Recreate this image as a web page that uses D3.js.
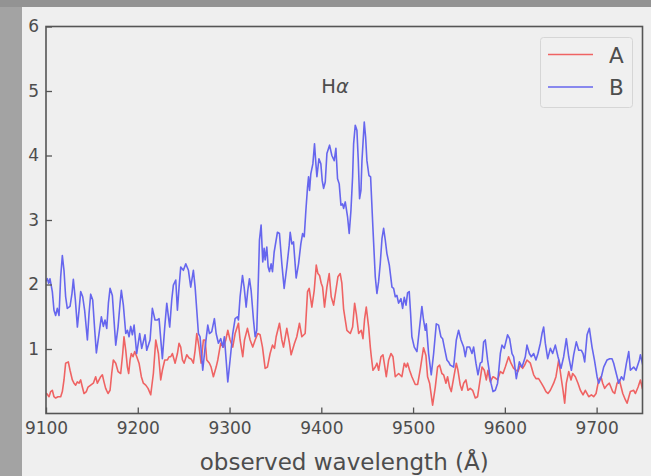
<!DOCTYPE html>
<html>
<head>
<meta charset="utf-8">
<script src="https://cdn.jsdelivr.net/npm/d3@7"></script>
<style>
  html, body { margin: 0; padding: 0; background: #efefef; }
  svg { display: block; }
  text { font-family: "DejaVu Sans", sans-serif; fill: #4d4d4d; }
</style>
</head>
<body>
<svg id="chart" width="651" height="476"></svg>
<script>
// Spectrum A (red): [wavelength in Å, flux]
const spectrumA = [[9100,0.30],[9100.7,0.31],[9103.3,0.26],[9105.1,0.34],[9106.9,0.36],[9108.7,0.26],[9110.5,0.24],[9113.1,0.26],[9116.0,0.26],[9117.8,0.34],[9119.6,0.52],[9121.4,0.78],[9124.3,0.80],[9126.2,0.67],[9128.7,0.52],[9130.5,0.47],[9132.3,0.44],[9134.1,0.49],[9136.0,0.47],[9137.8,0.52],[9139.6,0.41],[9141.4,0.31],[9144.0,0.34],[9145.8,0.41],[9148.7,0.44],[9151.6,0.47],[9154.1,0.57],[9156.0,0.47],[9157.8,0.52],[9159.6,0.57],[9161.4,0.60],[9163.2,0.49],[9165.0,0.39],[9167.6,0.31],[9169.8,0.36],[9171.6,0.62],[9173.4,0.83],[9176.0,0.78],[9178.5,0.65],[9181.4,0.62],[9183.6,0.93],[9185.0,1.19],[9186.9,0.98],[9188.7,0.72],[9190.1,0.62],[9191.6,0.83],[9193.0,0.93],[9194.8,0.88],[9196.7,0.96],[9198.9,0.88],[9201.4,0.78],[9203.9,0.57],[9206.1,0.47],[9208.7,0.44],[9211.2,0.39],[9214.1,0.29],[9217.0,0.62],[9219.6,1.14],[9222.5,0.93],[9225.0,0.52],[9226.8,0.67],[9229.4,0.83],[9232.3,0.83],[9234.1,0.88],[9235.9,0.88],[9237.7,0.93],[9240.7,0.78],[9243.2,0.93],[9245.0,1.09],[9246.8,1.03],[9248.7,0.83],[9250.5,0.78],[9253.4,0.91],[9255.9,0.86],[9258.5,0.84],[9260.6,0.78],[9262.5,0.98],[9264.3,1.24],[9266.8,1.03],[9269.0,0.78],[9271.5,1.14],[9273.4,1.14],[9275.2,0.83],[9278.1,0.78],[9279.9,0.72],[9282.4,0.57],[9285.4,0.72],[9287.2,0.83],[9289.0,0.98],[9290.4,1.09],[9293.4,1.03],[9295.9,1.14],[9298.1,1.29],[9300.6,1.14],[9303.5,1.03],[9306.1,1.24],[9309.7,1.40],[9311.5,1.14],[9314.4,0.88],[9316.3,1.14],[9319.5,1.32],[9322.4,1.14],[9325.3,1.03],[9327.9,1.14],[9330.8,1.24],[9333.3,1.22],[9335.9,1.03],[9338.8,0.70],[9341.3,0.72],[9344.2,0.93],[9346.8,1.06],[9349.0,1.01],[9350.8,1.19],[9354.4,1.40],[9357.0,1.14],[9358.8,1.03],[9362.4,1.32],[9365.3,1.09],[9367.1,0.91],[9370.8,1.09],[9373.3,1.19],[9376.2,1.40],[9378.8,1.19],[9382.4,1.24],[9385.0,1.89],[9386.8,1.94],[9389.7,1.65],[9392.3,1.91],[9394.5,2.30],[9396.3,2.17],[9398.1,2.14],[9399.9,2.02],[9401.4,1.96],[9403.5,1.65],[9406.1,1.96],[9408.6,2.17],[9410.8,1.81],[9413.4,1.68],[9415.9,1.91],[9418.1,2.12],[9420.6,2.17],[9422.4,2.02],[9424.3,1.62],[9426.1,1.45],[9427.9,1.29],[9431.6,1.24],[9434.1,1.34],[9436.3,1.71],[9438.1,1.55],[9440.7,1.24],[9443.6,1.29],[9445.4,1.16],[9447.2,1.47],[9449.0,1.65],[9451.6,1.34],[9453.4,1.03],[9454.5,0.88],[9456.3,0.67],[9458.8,0.72],[9460.6,0.78],[9462.5,0.67],[9465.0,0.88],[9467.2,0.91],[9468.6,0.78],[9470.8,0.57],[9473.4,0.83],[9475.9,0.93],[9478.1,0.88],[9480.6,0.57],[9484.3,0.62],[9487.8,0.57],[9490.4,0.78],[9492.5,0.72],[9494.0,0.78],[9496.2,0.67],[9498.7,0.57],[9502.4,0.45],[9505.0,0.45],[9508.0,0.70],[9511.4,1.02],[9514.0,0.90],[9515.8,0.57],[9518.0,0.47],[9521.3,0.13],[9524.2,0.41],[9526.7,0.72],[9528.9,0.75],[9531.4,0.62],[9533.3,0.60],[9535.8,0.47],[9537.6,0.57],[9539.8,0.41],[9541.6,0.34],[9544.2,0.55],[9547.1,0.78],[9548.9,0.67],[9551.4,0.44],[9553.2,0.36],[9555.1,0.47],[9557.6,0.52],[9559.8,0.36],[9562.3,0.39],[9564.9,0.36],[9567.8,0.24],[9570.3,0.26],[9572.5,0.47],[9575.1,0.72],[9577.6,0.67],[9579.8,0.52],[9581.6,0.67],[9584.1,0.49],[9587.1,0.57],[9589.6,0.55],[9592.1,0.52],[9595.1,0.65],[9598.0,0.62],[9600.5,0.72],[9604.1,0.88],[9606.7,0.78],[9609.6,0.70],[9612.5,0.67],[9614.3,0.65],[9616.9,0.75],[9619.4,0.70],[9621.6,0.75],[9624.1,0.83],[9627.8,0.78],[9631.4,0.60],[9633.9,0.54],[9636.8,0.54],[9639.8,0.47],[9642.3,0.41],[9644.8,0.34],[9647.0,0.31],[9649.6,0.36],[9653.2,0.47],[9655.7,0.57],[9658.7,0.83],[9661.2,0.57],[9663.4,0.36],[9665.2,0.16],[9667.0,0.47],[9669.6,0.65],[9672.1,0.52],[9673.9,0.62],[9676.8,0.57],[9679.7,0.47],[9682.3,0.36],[9685.2,0.29],[9687.7,0.36],[9691.4,0.26],[9694.3,0.29],[9696.8,0.26],[9699.4,0.31],[9702.3,0.52],[9704.8,0.57],[9706.6,0.47],[9708.8,0.39],[9711.4,0.44],[9713.9,0.47],[9717.5,0.34],[9719.7,0.31],[9722.3,0.47],[9724.8,0.52],[9728.5,0.31],[9731.4,0.21],[9733.2,0.16],[9736.8,0.34],[9740.4,0.36],[9742.3,0.31],[9745.2,0.41],[9747.7,0.52],[9750.0,0.38]];

// Spectrum B (blue): [wavelength in Å, flux]
const spectrumB = [[9100,2.05],[9101.4,2.09],[9102.9,2.02],[9104.3,2.09],[9106.9,1.89],[9108.7,1.60],[9110.5,1.52],[9112.3,1.63],[9114.2,1.52],[9116.0,2.12],[9117.8,2.45],[9119.6,2.22],[9121.4,1.81],[9123.2,1.63],[9126.2,1.66],[9128.3,1.86],[9129.8,2.08],[9132.0,1.76],[9134.2,1.34],[9136.0,1.60],[9137.8,1.89],[9140.0,1.81],[9142.1,1.60],[9145.1,1.14],[9146.9,1.55],[9148.7,1.85],[9150.9,1.76],[9153.1,1.29],[9154.9,0.94],[9157.8,1.24],[9160.3,1.50],[9162.5,1.35],[9164.3,1.45],[9166.2,1.32],[9168.0,1.71],[9169.8,1.94],[9172.3,1.83],[9174.1,1.45],[9176.0,1.06],[9178.5,1.34],[9180.7,1.71],[9182.1,1.91],[9184.3,1.68],[9186.9,1.24],[9188.7,1.29],[9190.5,1.19],[9192.3,1.35],[9194.1,1.22],[9196.0,1.37],[9198.8,0.93],[9202.1,1.24],[9204.3,1.01],[9207.9,1.22],[9209.8,0.98],[9213.4,1.14],[9215.9,1.63],[9218.8,1.45],[9221.4,1.45],[9223.2,1.47],[9226.8,0.85],[9229.4,1.34],[9231.6,1.71],[9234.8,1.34],[9237.0,1.76],[9238.8,1.99],[9241.4,2.07],[9243.2,1.60],[9245.0,1.96],[9246.8,2.27],[9249.7,2.22],[9252.3,2.32],[9255.2,2.22],[9257.7,1.96],[9260.6,2.22],[9262.5,1.96],[9264.3,1.60],[9266.1,1.24],[9267.9,1.19],[9270.8,0.67],[9273.4,1.03],[9276.3,1.37],[9278.1,1.24],[9280.6,1.27],[9283.5,1.47],[9285.4,1.24],[9287.9,1.09],[9290.4,1.16],[9292.6,1.03],[9294.4,1.19],[9296.3,0.83],[9298.1,0.49],[9300.6,0.83],[9303.5,1.24],[9306.1,1.47],[9308.6,1.50],[9309.7,1.45],[9311.5,1.81],[9314.1,2.14],[9315.9,1.96],[9318.1,1.65],[9319.9,1.91],[9321.7,2.09],[9323.5,1.91],[9326.1,1.45],[9327.9,1.19],[9329.7,1.29],[9331.5,2.12],[9332.6,2.69],[9334.4,2.92],[9336.2,2.35],[9337.7,2.56],[9338.8,2.38],[9340.6,2.58],[9342.1,2.27],[9343.5,2.20],[9345.3,2.32],[9346.8,2.20],[9348.6,2.50],[9352.2,2.81],[9354.4,2.79],[9357.0,2.32],[9359.5,1.94],[9362.4,2.27],[9365.0,2.61],[9366.1,2.81],[9367.9,2.63],[9369.7,2.66],[9372.6,2.10],[9375.2,2.32],[9377.7,2.63],[9379.6,2.79],[9381.4,2.74],[9383.2,3.15],[9385.0,3.51],[9386.1,3.67],[9387.2,3.46],[9388.6,3.72],[9390.8,3.87],[9392.6,4.18],[9394.1,3.87],[9395.2,3.67],[9397.4,3.95],[9399.5,3.87],[9401.0,3.61],[9402.5,3.49],[9404.3,3.59],[9406.1,4.03],[9409.0,4.16],[9411.5,4.00],[9414.1,3.92],[9415.9,4.11],[9417.7,3.64],[9419.5,3.56],[9421.4,3.23],[9423.2,3.25],[9424.3,3.18],[9426.1,3.28],[9428.6,3.05],[9430.4,2.79],[9432.3,3.15],[9434.1,3.67],[9435.2,4.18],[9437.0,4.47],[9438.8,4.39],[9440.3,3.92],[9441.7,3.33],[9443.2,3.46],[9444.3,3.92],[9446.8,4.52],[9448.3,4.28],[9449.7,3.92],[9451.9,3.69],[9453.7,3.67],[9456.2,2.89],[9458.8,2.12],[9460.6,1.86],[9462.4,2.04],[9464.2,2.32],[9466.1,2.71],[9467.9,2.87],[9469.7,2.69],[9471.5,2.48],[9474.1,2.30],[9477.0,1.96],[9478.8,1.94],[9480.6,1.81],[9482.4,1.83],[9484.2,1.71],[9486.8,1.78],[9488.6,1.63],[9490.4,1.80],[9492.3,1.68],[9494.0,1.87],[9495.8,1.89],[9497.3,1.55],[9498.7,1.19],[9501.3,1.03],[9504.2,0.96],[9507.1,1.34],[9509.6,1.66],[9511.4,1.45],[9513.3,1.29],[9514.4,1.39],[9516.9,0.93],[9519.8,0.60],[9522.4,0.93],[9525.3,1.39],[9527.8,1.37],[9530.3,1.19],[9532.2,1.16],[9534.0,1.03],[9536.9,0.83],[9538.7,0.80],[9540.5,0.75],[9544.2,0.72],[9547.1,1.14],[9549.6,1.29],[9552.2,1.14],[9555.1,1.03],[9556.9,0.88],[9558.7,1.03],[9561.6,1.03],[9564.2,0.93],[9566.0,1.03],[9568.5,0.78],[9570.7,0.60],[9573.2,0.78],[9575.1,0.80],[9576.9,1.11],[9578.7,1.14],[9581.2,0.83],[9584.9,0.47],[9587.1,0.34],[9589.6,0.36],[9592.1,0.47],[9595.1,0.93],[9596.9,1.06],[9599.4,1.01],[9603.0,1.22],[9605.2,1.16],[9607.8,0.93],[9609.6,0.88],[9612.5,0.54],[9615.8,0.80],[9618.7,0.72],[9620.5,0.80],[9622.3,0.88],[9624.1,1.06],[9626.7,0.93],[9628.8,0.88],[9631.4,0.93],[9633.9,0.83],[9636.1,0.93],[9638.7,1.09],[9640.5,1.24],[9642.3,1.34],[9644.1,1.09],[9646.7,0.85],[9649.6,1.01],[9652.1,0.93],[9655.0,1.06],[9657.9,0.88],[9661.2,0.70],[9664.1,0.88],[9667.0,1.16],[9669.6,0.88],[9672.5,0.67],[9675.0,0.91],[9677.9,1.11],[9680.5,0.98],[9683.4,0.98],[9685.2,0.93],[9687.0,0.80],[9689.6,1.22],[9692.1,1.32],[9695.0,1.03],[9697.6,0.83],[9700.5,0.57],[9702.3,0.47],[9705.2,0.57],[9707.7,0.72],[9711.4,0.83],[9714.3,0.85],[9716.8,0.85],[9718.6,0.78],[9720.5,0.67],[9724.1,0.47],[9727.0,0.57],[9729.5,0.52],[9732.5,0.78],[9735.0,0.96],[9736.8,0.67],[9740.4,0.72],[9743.0,0.67],[9746.6,0.83],[9747.7,0.91],[9750.3,0.75]];

const seriesNames = ["A", "B"];
const seriesColors = ["#ef6363", "#6666ee"];
const xTicks = [9100, 9200, 9300, 9400, 9500, 9600, 9700];
const yTicks = [1, 2, 3, 4, 5, 6];
const xDomain = [9100, 9750];
const yDomain = [0, 6];
const lineLabel = { wave: 9400, flux: 5, text: "H", greek: "α" };

const svg = d3.select("#chart");
const W = 651, H = 476;
const m = { left: 46, top: 26.5, right: 8.5, bottom: 62.5 };
const plotW = W - m.left - m.right, plotH = H - m.top - m.bottom;

// window frame strips
svg.append("rect").attr("x", 0).attr("y", 0).attr("width", 22).attr("height", H).attr("fill", "#a3a3a3");
svg.append("rect").attr("x", 0).attr("y", 0).attr("width", W).attr("height", 7).attr("fill", "#939393");

const x = d3.scaleLinear().domain(xDomain).range([m.left, m.left + plotW]);
const y = d3.scaleLinear().domain(yDomain).range([m.top + plotH, m.top]);

svg.append("clipPath").attr("id", "plotclip")
  .append("rect").attr("x", m.left).attr("y", m.top).attr("width", plotW).attr("height", plotH);

const line = d3.line().x(d => x(d[0])).y(d => y(d[1]));
const lines = svg.append("g").attr("clip-path", "url(#plotclip)");
[spectrumA, spectrumB].forEach((s, i) => {
  lines.append("path").datum(s)
    .attr("d", line)
    .attr("fill", "none")
    .attr("stroke", seriesColors[i])
    .attr("stroke-width", 1.6)
    .attr("stroke-linejoin", "round");
});

// axes with inward ticks
const xAxis = svg.append("g").attr("transform", `translate(0,${m.top + plotH})`)
  .call(d3.axisBottom(x).tickValues(xTicks).tickFormat(d3.format("d"))
    .tickSizeInner(-6).tickSizeOuter(0).tickPadding(8));
const yAxis = svg.append("g").attr("transform", `translate(${m.left},0)`)
  .call(d3.axisLeft(y).tickValues(yTicks).tickFormat(d3.format("d"))
    .tickSizeInner(-6).tickSizeOuter(0).tickPadding(7));
[xAxis, yAxis].forEach(g => {
  g.select(".domain").remove();
  g.selectAll(".tick line").attr("stroke", "#555").attr("stroke-width", 1.3);
  g.selectAll(".tick text").attr("font-size", 17).attr("font-family", "DejaVu Sans").attr("fill", "#4d4d4d");
});

// frame
svg.append("rect").attr("x", m.left).attr("y", m.top).attr("width", plotW).attr("height", plotH)
  .attr("fill", "none").attr("stroke", "#555").attr("stroke-width", 1.6);

// axis title
svg.append("text").attr("x", m.left + plotW / 2).attr("y", 470)
  .attr("text-anchor", "middle").attr("font-size", 23)
  .text("observed wavelength (Å)");

// emission line label
const lbl = svg.append("text").attr("x", x(lineLabel.wave)).attr("y", y(lineLabel.flux) + 1.5)
  .attr("font-size", 19.5);
lbl.append("tspan").text(lineLabel.text);
lbl.append("tspan").attr("font-style", "italic").text(lineLabel.greek);

// legend
const lg = svg.append("g");
lg.append("rect").attr("x", 540.5).attr("y", 37.5).attr("width", 92).attr("height", 70).attr("rx", 3)
  .attr("fill", "#f0f0f0").attr("stroke", "#d6d6d6").attr("stroke-width", 1);
seriesNames.forEach((n, i) => {
  const yy = 54.5 + i * 32.5;
  lg.append("line").attr("x1", 548).attr("x2", 593).attr("y1", yy).attr("y2", yy)
    .attr("stroke", seriesColors[i]).attr("stroke-width", 1.6);
  lg.append("text").attr("x", 609).attr("y", yy + 8).attr("font-size", 21.5).text(n);
});
</script>
</body>
</html>
